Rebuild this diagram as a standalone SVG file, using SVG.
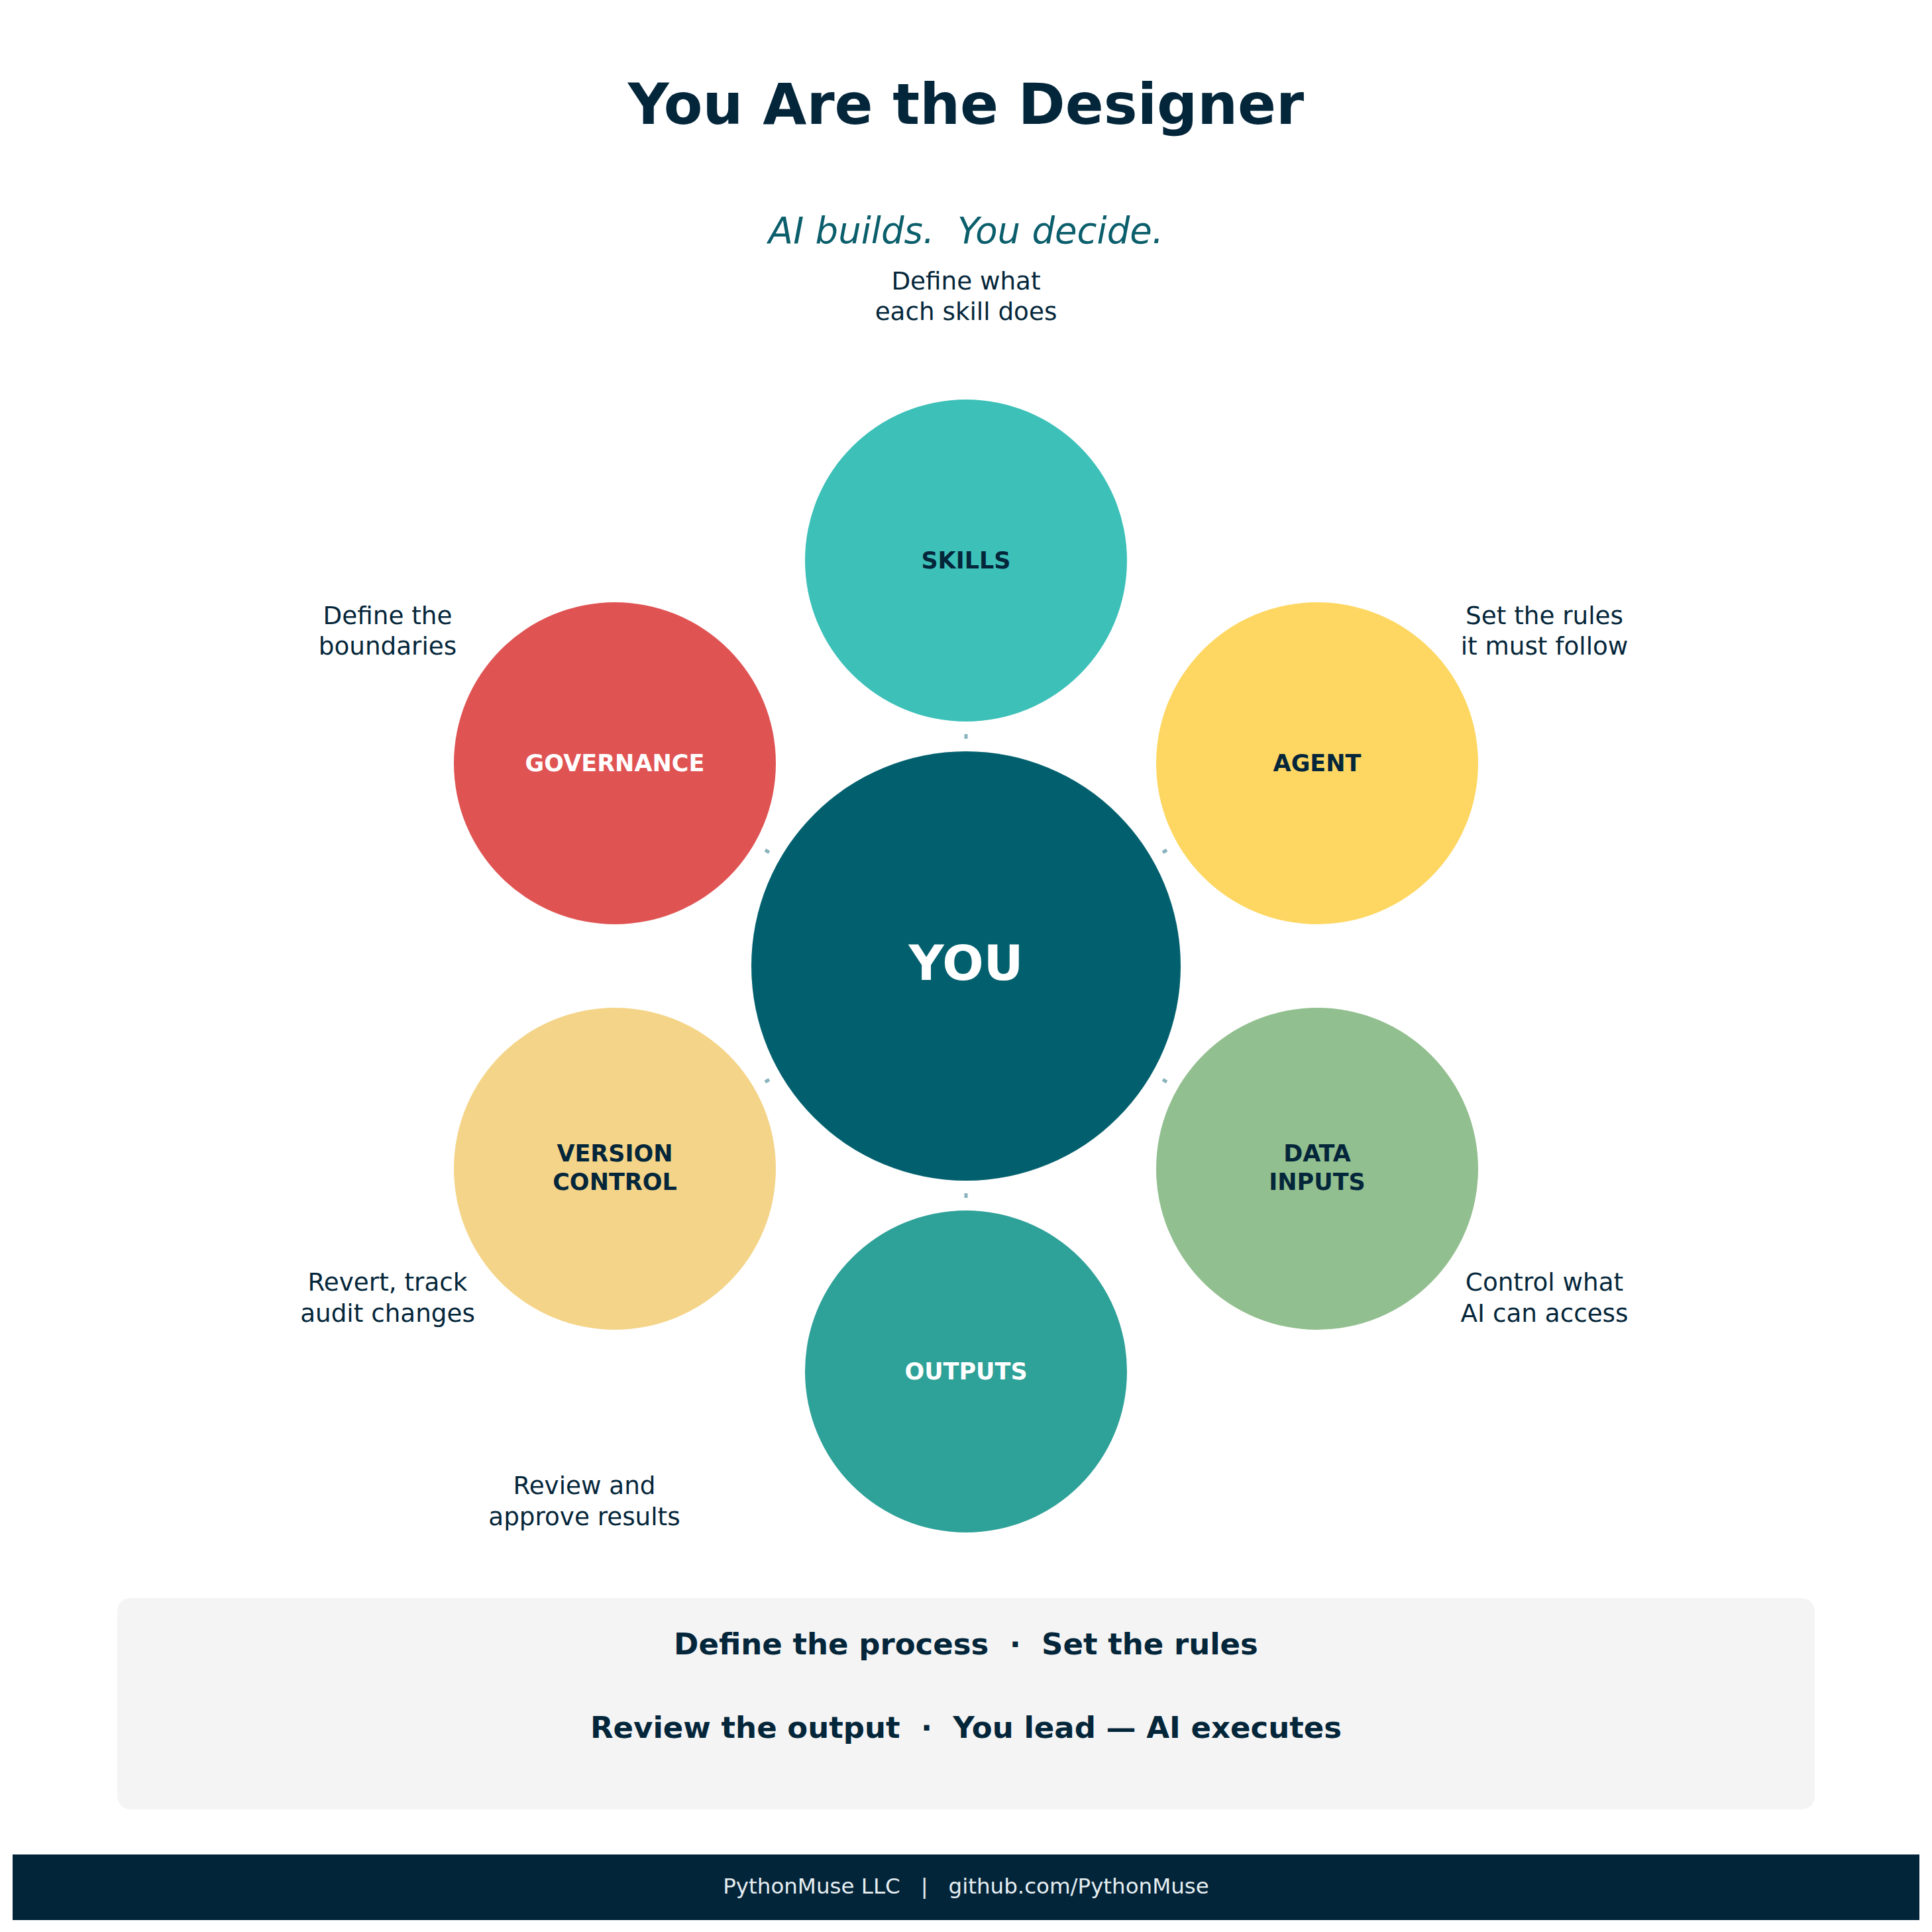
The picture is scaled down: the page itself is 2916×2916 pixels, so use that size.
<svg xmlns="http://www.w3.org/2000/svg" width="2916" height="2916" viewBox="0 0 2916 2916">
<style>
text{font-family:"DejaVu Sans","Liberation Sans",sans-serif;text-anchor:middle}
.title{font-size:85.5px;font-weight:bold;fill:#04263a}
.sub{font-size:54.5px;font-style:italic;fill:#0b5e6b}
.lbl{font-size:37.3px;fill:#04263a}
.node{font-size:35px;font-weight:bold}
.dk{fill:#04263a}
.wt{fill:#ffffff}
.you{font-size:73.5px;font-weight:bold;fill:#ffffff}
.band{font-size:45px;font-weight:bold;fill:#04263a}
.foot{font-size:32.5px;fill:#e6eef1}
.conn line{stroke:#88b3bd;stroke-width:5}
</style>
<rect width="2916" height="2916" fill="#ffffff"/>
<text class="title" x="1458" y="187">You Are the Designer</text>
<text class="sub" x="1458" y="367" xml:space="preserve">AI builds.  You decide.</text>

<g id="connectors" class="conn">
<line x1="1458" y1="1115" x2="1458" y2="1108"/>
<line x1="1755" y1="1286.5" x2="1761.1" y2="1283"/>
<line x1="1755" y1="1629.5" x2="1761.1" y2="1633"/>
<line x1="1458" y1="1801" x2="1458" y2="1808"/>
<line x1="1161" y1="1629.5" x2="1154.9" y2="1633"/>
<line x1="1161" y1="1286.5" x2="1154.9" y2="1283"/>
</g>

<g id="you">
<circle cx="1458" cy="1458" r="324" fill="#02606e"/>
<text class="you" x="1458" y="1479">YOU</text>
</g>

<g id="skills">
<circle cx="1458" cy="846" r="243" fill="#3cc0b8"/>
<text class="node dk" x="1458" y="858">SKILLS</text>
<text class="lbl" x="1458" y="437">Define what</text>
<text class="lbl" x="1458" y="483">each skill does</text>
</g>

<g id="agent">
<circle cx="1988" cy="1152" r="243" fill="#fed762"/>
<text class="node dk" x="1988" y="1164">AGENT</text>
<text class="lbl" x="2331" y="942">Set the rules</text>
<text class="lbl" x="2331" y="988">it must follow</text>
</g>

<g id="data-inputs">
<circle cx="1988" cy="1764" r="243" fill="#92bf8f"/>
<text class="node dk" x="1988" y="1753">DATA</text>
<text class="node dk" x="1988" y="1796">INPUTS</text>
<text class="lbl" x="2331" y="1948">Control what</text>
<text class="lbl" x="2331" y="1995">AI can access</text>
</g>

<g id="outputs">
<circle cx="1458" cy="2070" r="243" fill="#2ea198"/>
<text class="node wt" x="1458" y="2082">OUTPUTS</text>
<text class="lbl" x="882" y="2255">Review and</text>
<text class="lbl" x="882" y="2302">approve results</text>
</g>

<g id="version-control">
<circle cx="928" cy="1764" r="243" fill="#f4d488"/>
<text class="node dk" x="928" y="1753">VERSION</text>
<text class="node dk" x="928" y="1796">CONTROL</text>
<text class="lbl" x="585" y="1948">Revert, track</text>
<text class="lbl" x="585" y="1995">audit changes</text>
</g>

<g id="governance">
<circle cx="928" cy="1152" r="243" fill="#e05353"/>
<text class="node wt" x="928" y="1164">GOVERNANCE</text>
<text class="lbl" x="585" y="942">Define the</text>
<text class="lbl" x="585" y="988">boundaries</text>
</g>

<g id="summary">
<rect x="177" y="2412" width="2562" height="319" rx="20" fill="#f4f4f4"/>
<text class="band" x="1458" y="2497" xml:space="preserve">Define the process  ·  Set the rules</text>
<text class="band" x="1458" y="2623" xml:space="preserve">Review the output  ·  You lead — AI executes</text>
</g>

<g id="footer">
<rect x="19" y="2799" width="2878" height="99" fill="#03253a"/>
<text class="foot" x="1458" y="2858" xml:space="preserve">PythonMuse LLC   |   github.com/PythonMuse</text>
</g>
</svg>
